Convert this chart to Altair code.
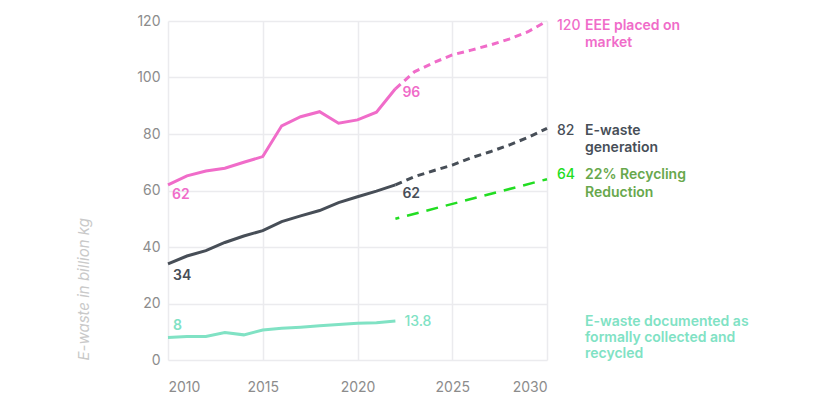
import altair as alt
import pandas as pd

# Historical years and series (billion kg)
years_hist = list(range(2010, 2023))
eee_hist = [62, 65.2, 66.9, 67.9, 70, 72, 82.9, 86.1, 87.9, 83.8, 85, 87.7, 96]
gen_hist = [34, 36.8, 38.7, 41.6, 43.9, 45.8, 49, 51, 52.9, 55.7, 57.8, 59.8, 62]
collected_hist = [8, 8.3, 8.3, 9.7, 8.9, 10.6, 11.2, 11.6, 12.1, 12.6, 13, 13.2, 13.8]

# Projections
years_proj = list(range(2022, 2031))
eee_proj = [96, 102, 105.2, 108, 109.7, 111.5, 113.6, 116.2, 120]
gen_proj = [62, 64.9, 67, 69, 71.6, 73.7, 76.1, 78.8, 82]
recycling_years = [2022, 2030]
recycling_proj = [50, 64]

x_ticks = [2010, 2015, 2020, 2025, 2030]
y_ticks = [0, 20, 40, 60, 80, 100, 120]

PINK = "#f06cc9"
GREY = "#474e57"
TEAL = "#80e2c4"
GREEN = "#22dd22"
GREEN_TXT = "#68a84c"
FONT = "Inter"

x_scale = alt.Scale(domain=[2010, 2030], nice=False)
y_scale = alt.Scale(domain=[0, 120], nice=False)

X = alt.X(
    "year:Q",
    scale=x_scale,
    axis=alt.Axis(values=x_ticks, format="d", title=None, grid=True, domain=False,
                  ticks=False, labelPadding=20, labelFontSize=14, labelColor="#8c8c8c",
                  labelFont=FONT, gridColor="#ebebee", gridWidth=1.5),
)
Y = alt.Y(
    "value:Q",
    scale=y_scale,
    axis=alt.Axis(values=y_ticks, title="E-waste in billion kg", grid=True, domain=False,
                  ticks=False, labelPadding=8, labelFontSize=14, labelColor="#8c8c8c",
                  labelFont=FONT, gridColor="#ebebee", gridWidth=1.5,
                  titleFont=FONT, titleFontSize=15, titleFontStyle="italic",
                  titleFontWeight="normal", titleColor="#c9c9c9", titleAngle=270,
                  titleX=-85, titleY=339, titleAlign="left", titleBaseline="middle"),
)


def frame(xs, ys):
    return pd.DataFrame({"year": xs, "value": ys})


def line(xs, ys, color, width=3, dash=None, offset=None):
    kw = dict(color=color, strokeWidth=width, strokeCap="butt")
    if dash is not None:
        kw["strokeDash"] = dash
    if offset is not None:
        kw["strokeDashOffset"] = offset
    return alt.Chart(frame(xs, ys)).mark_line(**kw).encode(x=X, y=Y)


def label(year, value, text, color, dx, dy, weight=600, size=14, line_height=17):
    df = pd.DataFrame({"year": [year], "value": [value], "text": [text]})
    return alt.Chart(df).mark_text(
        align="left", baseline="alphabetic", dx=dx, dy=dy, color=color,
        font=FONT, fontSize=size, fontWeight=weight, lineBreak="\n",
        lineHeight=line_height,
    ).encode(x=alt.X("year:Q", scale=x_scale), y=alt.Y("value:Q", scale=y_scale),
             text="text:N")


layers = [
    line(years_hist, eee_hist, PINK),
    line(years_proj, eee_proj, PINK, dash=[7, 5]),
    line(years_hist, gen_hist, GREY),
    line(years_proj, gen_proj, GREY, dash=[7, 5]),
    line(years_hist, collected_hist, TEAL),
    line(recycling_years, recycling_proj, GREEN, width=2.5, dash=[12, 8], offset=8),
    # inline value labels
    label(years_hist[0], eee_hist[0], str(eee_hist[0]), PINK, 4, 14),
    label(years_hist[-1], eee_hist[-1], str(eee_hist[-1]), PINK, 7, 8),
    label(years_hist[0], gen_hist[0], str(gen_hist[0]), GREY, 5, 16),
    label(years_hist[-1], gen_hist[-1], str(gen_hist[-1]), GREY, 7, 13),
    label(years_hist[0], collected_hist[0], str(collected_hist[0]), TEAL, 5, -7),
    label(years_hist[-1], collected_hist[-1], str(collected_hist[-1]), TEAL, 9, 5, weight=500),
    # end-of-line values and series names
    label(years_proj[-1], eee_proj[-1], str(eee_proj[-1]), PINK, 10, 9, weight=500),
    label(years_proj[-1], eee_proj[-1], "EEE placed on\nmarket", PINK, 38, 9),
    label(years_proj[-1], gen_proj[-1], str(gen_proj[-1]), GREY, 10, 7, weight=500),
    label(years_proj[-1], gen_proj[-1], "E-waste\ngeneration", GREY, 38, 7),
    label(recycling_years[-1], recycling_proj[-1], str(recycling_proj[-1]), GREEN, 10, 0, weight=500),
    label(recycling_years[-1], recycling_proj[-1], "22% Recycling\nReduction", GREEN_TXT, 38, 0,
          line_height=18),
    label(recycling_years[-1], collected_hist[-1], "E-waste documented as\nformally collected and\nrecycled",
          TEAL, 38, 5, line_height=16),
]

chart = (
    alt.layer(*layers)
    .properties(
        width=379,
        height=339,
        autosize=alt.AutoSizeParams(type="none"),
        padding={"left": 168, "top": 21, "right": 282, "bottom": 48},
        background="white",
    )
    .configure_view(stroke=None)
)

chart.save("out.html", embed_options={"renderer": "svg", "actions": False})
